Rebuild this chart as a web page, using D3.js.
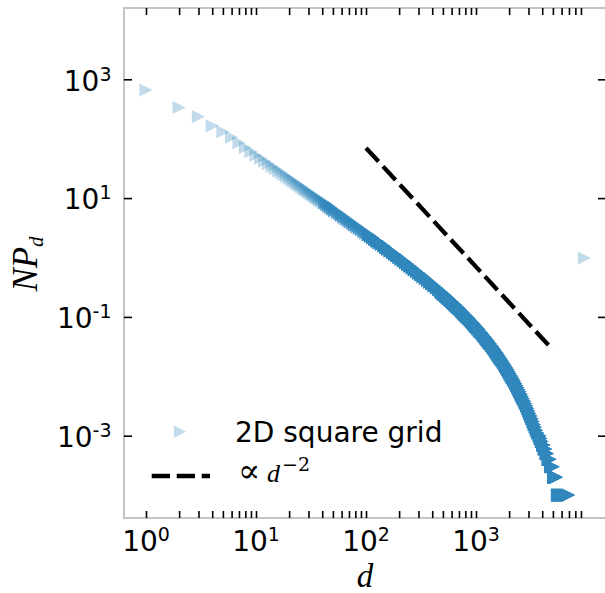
<!DOCTYPE html>
<html><head><meta charset="utf-8">
<script src="https://cdn.jsdelivr.net/npm/d3@7"></script>
<style>body{margin:0;background:#fff}svg{display:block}</style>
</head><body>
<svg id="c" width="605" height="593"></svg>
<script>
// ---- data ----
const distance = [
1,2,3,4,5,6,7,8,9,10,11,12,13,14,15,16,17,18,19,20,21,22,23,24,25,26,27,28,29,30,31,32,33,34,35,36,37,38,39,40,
42,44,46,48,50,52,55,58,60,63,66,69,72,76,79,83,87,91,96,100,105,110,115,120,126,132,138,145,151,158,166,174,182,191,200,
209,219,229,240,251,263,275,288,302,316,331,347,363,380,398,417,437,457,479,
490,501,513,525,537,550,562,575,589,603,617,631,646,661,676,692,708,724,741,759,
776,794,813,832,851,871,891,912,933,955,977,1000,1023,1047,1072,1096,1122,1148,1175,1202,
1230,1259,1288,1318,1349,1380,1413,1445,1479,1514,1549,1585,1622,1660,1698,1738,1778,1820,1862,1905,
1950,1995,2042,2089,2138,2188,2239,2291,2344,2399,2455,2512,2570,2630,2692,2754,2818,2884,2951,3020,
3090,3162,3236,3311,3388,3467,3548,3631,
3762,3802,3842,3883,3939,3981,4031,4083,4134,4178,4230,4284,4347,4402,4457,4533,4590,4648,4701,4771,4834,4898,4960,5022,
5075,5151,5226,5303,5393,5507,5623,5742,5863,5988,6115,6244,6376,6511,6641,6789,6933,
9690
];
const npd = [
661,335,235,165,131,106,85.6,70.8,60.7,52.8,46.8,41.8,37.7,34.2,31.5,28.8,26.6,24.7,23.1,21.6,20.2,19.1,18.0,17.0,16.2,15.4,14.6,13.9,13.3,12.8,12.2,11.7,11.3,10.8,10.4,10.1,9.72,9.39,9.08,8.78,
8.29,7.80,7.34,6.91,6.50,6.12,5.76,5.41,5.09,4.79,4.51,4.24,3.99,3.75,3.52,3.31,3.12,2.93,2.75,2.59,2.43,2.28,2.15,2.01,1.89,1.78,1.67,1.57,1.47,1.38,1.29,1.21,1.14,1.07,1.00,
0.935,0.876,0.820,0.767,0.718,0.671,0.627,0.586,0.547,0.511,0.477,0.444,0.414,0.386,0.359,0.334,0.311,0.288,0.268,
0.258,0.248,0.239,0.230,0.221,0.213,0.205,0.197,0.189,0.182,0.175,0.168,0.161,0.155,0.148,0.142,0.1365,0.1308,0.1254,0.1201,
0.1150,0.1100,0.1053,0.1008,0.0963,0.0921,0.0880,0.0840,0.0802,0.0765,0.0729,0.0695,0.0662,0.0630,0.0600,0.0570,0.0542,0.0515,0.0489,0.0464,
0.0440,0.0417,0.0395,0.0373,0.0353,0.0334,0.0315,0.0297,0.0280,0.0264,0.0248,0.0234,0.0219,0.0206,0.0193,0.0181,0.0169,0.0158,0.0148,0.0138,
0.0129,0.0120,0.0111,0.0103,0.00960,0.00889,0.00823,0.00760,0.00701,0.00647,0.00595,0.00547,0.00501,0.00459,0.00420,0.00384,0.00350,0.00318,0.00289,0.00262,
0.00237,0.00214,0.00193,0.00173,0.00155,0.00139,0.00124,0.00111,
0.0010,0.0010,0.0009,0.0009,0.0008,0.0008,0.0007,0.0007,0.0007,0.0006,0.0006,0.0006,0.0005,0.0005,0.0005,0.0004,0.0004,0.0004,0.0004,0.0003,0.0003,0.0003,0.0003,0.0003,
0.0002,0.0002,0.0002,0.0002,0.0002,0.0001,0.0001,0.0001,0.0001,0.0001,0.0001,0.0001,0.0001,0.0001,0.0001,0.0001,0.0001,
0.98
];
const refLineD = [100, 5000];
const refLineNP = [69.7, 0.0279];
const xTickValues = [1, 10, 100, 1000];
const xTickExps = ["0", "1", "2", "3"];
const yTickValues = [1e3, 1e1, 1e-1, 1e-3];
const yTickExps = ["3", "1", "-1", "-3"];
const seriesLabel = "2D square grid";

// ---- layout ----
const W = 605, H = 593;
const m = {l: 124, r: 606, t: 8, b: 518};
const svg = d3.select("#c");
svg.append("rect").attr("width", W).attr("height", H).attr("fill", "#fff");

const x = d3.scaleLog().domain([Math.pow(10, -0.2), Math.pow(10, 4.1818)]).range([m.l, m.r]);
const y = d3.scaleLog().domain([Math.pow(10, -4.3855), Math.pow(10, 4.2003)]).range([m.b, m.t]);

const defs = svg.append("defs");
defs.append("clipPath").attr("id", "clip").append("rect")
  .attr("x", m.l).attr("y", m.t).attr("width", m.r - m.l).attr("height", m.b - m.t);
// where the thousands of integer-distance points of the original pile up, the
// alpha saturates; these filters reproduce that accumulated opacity
function densityFilter(id, table) {
  const f = defs.append("filter").attr("id", id).attr("filterUnits", "userSpaceOnUse")
    .attr("x", 0).attr("y", 0).attr("width", W).attr("height", H)
    .attr("color-interpolation-filters", "sRGB");
  f.append("feComponentTransfer").append("feFuncA").attr("type", "table").attr("tableValues", table);
}
densityFilter("dense1", "0 0.344 0.59 0.76 0.87 0.9375 0.974 0.992 0.998 1 1");
densityFilter("dense2", "0 0.6 0.92 1 1 1 1 1 1 1 1");

const color = "#3288bd";
const tri = s => `M${-s},${-s}L${s},0L${-s},${s}Z`;

const pts = distance.map((d, i) => ({d, v: npd[i]}));
const tier = p => (p.d <= 40 || p.d > 8000) ? 0 : (p.d <= 100 ? 1 : 2);
const plot = svg.append("g").attr("clip-path", "url(#clip)");
function drawMarkers(g, data) {
  g.selectAll("path").data(data).join("path")
    .attr("d", tri(6.6))
    .attr("transform", p => `translate(${x(p.d)},${y(p.v)})`)
    .attr("fill", color).attr("fill-opacity", 0.3);
}
drawMarkers(plot.append("g"), pts.filter(p => tier(p) === 0));
drawMarkers(plot.append("g").attr("filter", "url(#dense1)"), pts.filter(p => tier(p) === 1));
drawMarkers(plot.append("g").attr("filter", "url(#dense2)"), pts.filter(p => tier(p) === 2));

const line = d3.line().x(p => x(p[0])).y(p => y(p[1]));
svg.append("path").datum(refLineD.map((d, i) => [d, refLineNP[i]]))
  .attr("d", line).attr("fill", "none").attr("stroke", "#000")
  .attr("stroke-width", 4.3).attr("stroke-dasharray", "18.5,6.5");

// spines
svg.append("rect").attr("x", m.l).attr("y", m.t).attr("width", m.r - m.l).attr("height", m.b - m.t)
  .attr("fill", "none").attr("stroke", "#c4c4c4").attr("stroke-width", 2);

// ticks
const xMinor = [];
xTickValues.forEach(b => { for (let k = 2; k <= 9; k++) xMinor.push(b * k); });
const xAll = xTickValues.concat(xMinor);
function styleAxis(g) {
  g.select(".domain").remove();
  g.selectAll(".tick line").attr("stroke", "#000").attr("stroke-width", 1.6);
}
svg.append("g").attr("transform", `translate(0,${m.b})`)
  .call(d3.axisBottom(x).tickValues(xAll).tickSize(-7).tickSizeOuter(0).tickFormat(() => "")).call(styleAxis);
svg.append("g").attr("transform", `translate(0,${m.t})`)
  .call(d3.axisTop(x).tickValues(xAll).tickSize(-7).tickSizeOuter(0).tickFormat(() => "")).call(styleAxis);
svg.append("g").attr("transform", `translate(${m.l},0)`)
  .call(d3.axisLeft(y).tickValues(yTickValues).tickSize(-8).tickSizeOuter(0).tickFormat(() => "")).call(styleAxis);
svg.append("g").attr("transform", `translate(${m.r},0)`)
  .call(d3.axisRight(y).tickValues(yTickValues).tickSize(-8).tickSizeOuter(0).tickFormat(() => "")).call(styleAxis);

// tick labels
const font = "DejaVu Sans";
xTickValues.forEach((v, i) => {
  const t = svg.append("text").attr("x", x(v)).attr("y", m.b + 32.7)
    .attr("text-anchor", "middle").attr("font-family", font).attr("font-size", 28).attr("fill", "#000");
  t.append("tspan").text("10");
  t.append("tspan").attr("dy", -10).attr("font-size", 19).text(xTickExps[i]);
});
yTickValues.forEach((v, i) => {
  const t = svg.append("text").attr("x", m.l - 12.5).attr("y", y(v) + 11.3)
    .attr("text-anchor", "end").attr("font-family", font).attr("font-size", 28).attr("fill", "#000");
  t.append("tspan").text("10");
  t.append("tspan").attr("dy", -10).attr("font-size", 19).text(yTickExps[i]);
});

// axis labels
const mathFont = "Liberation Serif";
svg.append("text").attr("x", (m.l + m.r) / 2).attr("y", 586.5).attr("text-anchor", "middle")
  .attr("font-family", mathFont).attr("font-style", "italic").attr("font-size", 33).text("d");
const yl = svg.append("text").attr("transform", "translate(37,264) rotate(-90)")
  .attr("text-anchor", "middle").attr("font-family", mathFont).attr("font-style", "italic").attr("font-size", 35);
yl.append("tspan").text("NP");
yl.append("tspan").attr("dy", 6).attr("font-size", 21).text("d");

// legend
svg.append("path").attr("d", tri(6.1)).attr("transform", "translate(180,431.7)")
  .attr("fill", color).attr("fill-opacity", 0.3);
svg.append("text").attr("x", 235).attr("y", 441.7).attr("font-family", font).attr("font-size", 28).text(seriesLabel);
svg.append("line").attr("x1", 151.7).attr("x2", 210).attr("y1", 476).attr("y2", 476)
  .attr("stroke", "#000").attr("stroke-width", 4.3).attr("stroke-dasharray", "18.3,6.7");
const lt = svg.append("text").attr("y", 481.7).attr("font-size", 24);
lt.append("tspan").attr("x", 238).attr("font-family", "DejaVu Serif").attr("font-size", 33).text("\u221D");
lt.append("tspan").attr("x", 267).attr("font-family", mathFont).attr("font-style", "italic").attr("font-size", 26).text("d");
lt.append("tspan").attr("x", 282).attr("dy", -11).attr("font-family", "DejaVu Serif").attr("font-size", 19).text("\u22122");
</script>
</body></html>
